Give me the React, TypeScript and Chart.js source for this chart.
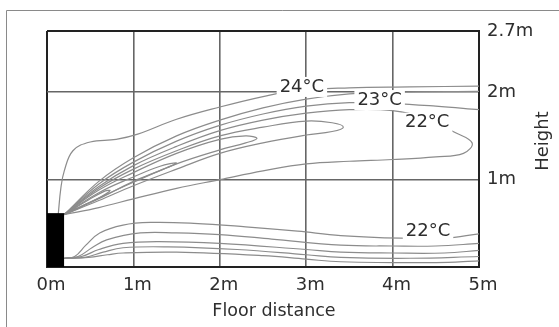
import React, { useEffect, useRef } from "react";
import { Chart, registerables } from "chart.js";

Chart.register(...registerables);

// Axis ticks (metres)
const xTickValues = [0, 1, 2, 3, 4, 5];
const yTickValues = [1, 2, 2.7];

// Outlet block (black)
const outletX = [0, 0.2];
const outletY = [0.61, 0.61];

// Upper fan contours
const c24X = [0.13, 0.16, 0.2, 0.3, 0.5, 0.8, 1.05, 1.5, 2.0, 2.5, 2.9, 3.5, 4.2, 5.0];
const c24Y = [0.6, 0.9, 1.1, 1.33, 1.43, 1.46, 1.52, 1.69, 1.83, 1.95, 2.02, 2.05, 2.06, 2.07];

const c2X = [0.2, 0.6, 1.0, 1.5, 2.0, 2.5, 3.0, 3.5, 4.0, 5.0];
const c2Y = [0.6, 0.98, 1.25, 1.5, 1.68, 1.82, 1.92, 1.98, 2.0, 2.01];

const c23X = [0.2, 0.6, 1.0, 1.5, 2.0, 2.5, 3.0, 3.5, 4.0, 4.5, 5.0];
const c23Y = [0.6, 0.95, 1.2, 1.44, 1.62, 1.75, 1.84, 1.88, 1.87, 1.84, 1.8];

const c22X = [0.2, 0.6, 1.0, 1.5, 2.0, 2.5, 3.0, 3.5, 4.0, 4.4, 4.7, 4.92, 4.82, 4.5, 4.0, 3.5, 3.0, 2.5, 2.0, 1.5, 1.0, 0.6, 0.2];
const c22Y = [0.6, 0.92, 1.16, 1.38, 1.56, 1.68, 1.76, 1.8, 1.79, 1.7, 1.55, 1.42, 1.3, 1.26, 1.23, 1.21, 1.18, 1.1, 1.0, 0.9, 0.78, 0.68, 0.6];

const loop4X = [0.2, 0.6, 1.0, 1.5, 2.0, 2.5, 3.0, 3.3, 3.43, 3.3, 3.0, 2.5, 2.0, 1.5, 1.0, 0.6, 0.2];
const loop4Y = [0.6, 0.9, 1.12, 1.33, 1.5, 1.6, 1.67, 1.65, 1.6, 1.55, 1.51, 1.42, 1.3, 1.12, 0.93, 0.76, 0.6];

const loop3X = [0.2, 0.6, 1.0, 1.5, 2.0, 2.3, 2.43, 2.3, 2.0, 1.5, 1.0, 0.6, 0.2];
const loop3Y = [0.6, 0.88, 1.08, 1.3, 1.46, 1.5, 1.47, 1.42, 1.34, 1.18, 0.97, 0.79, 0.6];

const loop2X = [0.2, 0.6, 1.0, 1.3, 1.5, 1.35, 1.0, 0.6, 0.2];
const loop2Y = [0.6, 0.85, 1.03, 1.15, 1.19, 1.12, 0.98, 0.78, 0.6];

const loop1X = [0.2, 0.45, 0.65, 0.73, 0.62, 0.45, 0.2];
const loop1Y = [0.6, 0.75, 0.86, 0.875, 0.8, 0.72, 0.6];

// Lower fan contours
const d1X = [0.2, 0.32, 0.45, 0.61, 0.88, 1.2, 1.7, 2.3, 2.9, 3.4, 4.1, 4.6, 5.0];
const d1Y = [0.1, 0.12, 0.25, 0.39, 0.48, 0.51, 0.5, 0.46, 0.41, 0.36, 0.33, 0.33, 0.38];

const d2X = [0.2, 0.36, 0.52, 0.69, 1.08, 1.5, 2.0, 2.6, 3.4, 4.0, 4.5, 5.0];
const d2Y = [0.1, 0.12, 0.22, 0.31, 0.39, 0.39, 0.37, 0.32, 0.25, 0.24, 0.24, 0.27];

const d3X = [0.2, 0.4, 0.6, 0.88, 1.3, 2.0, 3.0, 3.4, 4.0, 4.6, 5.0];
const d3Y = [0.1, 0.12, 0.2, 0.27, 0.29, 0.27, 0.2, 0.17, 0.16, 0.16, 0.19];

const d4X = [0.2, 0.44, 0.65, 0.88, 1.4, 2.2, 3.0, 3.4, 4.2, 5.0];
const d4Y = [0.1, 0.11, 0.17, 0.22, 0.23, 0.2, 0.14, 0.11, 0.1, 0.12];

const d5X = [0.2, 0.48, 0.7, 0.88, 1.5, 2.5, 3.0, 3.4, 4.5, 5.0];
const d5Y = [0.1, 0.11, 0.14, 0.16, 0.17, 0.13, 0.09, 0.06, 0.05, 0.07];

// Temperature labels
const tempLabels = ["24°C", "23°C", "22°C", "22°C"];
const tempLabelX = [2.95, 3.85, 4.4, 4.41];
const tempLabelY = [2.06, 1.91, 1.65, 0.41];

const xTitle = "Floor distance";
const yTitle = "Height";

const FONT = "'DejaVu Sans', sans-serif";
const TEXT = "#2e2e2e";

export default function App() {
  const ref = useRef<HTMLCanvasElement>(null);

  useEffect(() => {
    if (!ref.current) return;
    const pts = (xs: number[], ys: number[]) => xs.map((x, i) => ({ x, y: ys[i] }));
    const contour = (xs: number[], ys: number[]) => ({
      data: pts(xs, ys),
      showLine: true,
      pointRadius: 0,
      borderColor: "#8c8c8c",
      borderWidth: 1.2,
      tension: 0.4,
      fill: false,
    });

    const contours = [
      [c24X, c24Y], [c2X, c2Y], [c23X, c23Y], [c22X, c22Y],
      [loop4X, loop4Y], [loop3X, loop3Y], [loop2X, loop2Y], [loop1X, loop1Y],
      [d1X, d1Y], [d2X, d2Y], [d3X, d3Y], [d4X, d4Y], [d5X, d5Y],
    ].map(([xs, ys]) => contour(xs, ys));

    const framePlugin = {
      id: "frame",
      beforeDraw(chart: any) {
        const ctx = chart.ctx;
        ctx.save();
        ctx.fillStyle = "#ffffff";
        ctx.fillRect(0, 0, chart.width, chart.height);
        ctx.strokeStyle = "#8a8a8a";
        ctx.lineWidth = 1;
        ctx.beginPath();
        ctx.moveTo(6.5, chart.height);
        ctx.lineTo(6.5, 10.5);
        ctx.lineTo(chart.width, 10.5);
        ctx.stroke();
        ctx.restore();
      },
      afterDraw(chart: any) {
        const ctx = chart.ctx;
        ctx.save();
        ctx.fillStyle = TEXT;
        ctx.textAlign = "center";
        ctx.textBaseline = "middle";
        ctx.font = `17.5px ${FONT}`;
        ctx.fillText(xTitle, 274, 311);
        ctx.font = `18px ${FONT}`;
        ctx.translate(543, 141);
        ctx.rotate(-Math.PI / 2);
        ctx.fillText(yTitle, 0, 0);
        ctx.restore();
      },
    };

    const labelPlugin = {
      id: "tempLabels",
      afterDatasetsDraw(chart: any) {
        const ctx = chart.ctx;
        const xs = chart.scales.x;
        const ys = chart.scales.y;
        ctx.save();
        ctx.font = `18px ${FONT}`;
        ctx.textAlign = "center";
        ctx.textBaseline = "middle";
        tempLabels.forEach((t, i) => {
          const px = xs.getPixelForValue(tempLabelX[i]);
          const py = ys.getPixelForValue(tempLabelY[i]);
          const w = ctx.measureText(t).width;
          ctx.fillStyle = "#ffffff";
          ctx.fillRect(px - w / 2 - 3, py - 10, w + 6, 20);
          ctx.fillStyle = TEXT;
          ctx.fillText(t, px, py);
        });
        ctx.restore();
      },
    };

    const chart = new Chart(ref.current, {
      type: "scatter",
      data: {
        datasets: [
          {
            data: pts(outletX, outletY),
            showLine: true,
            pointRadius: 0,
            borderColor: "#000",
            borderWidth: 1,
            backgroundColor: "#000",
            fill: "origin",
            tension: 0,
          } as any,
          ...contours,
        ],
      },
      options: {
        responsive: false,
        animation: false,
        events: [],
        layout: { padding: { left: 47, top: 31, right: 0, bottom: 0 } },
        plugins: { legend: { display: false }, tooltip: { enabled: false } },
        scales: {
          x: {
            type: "linear",
            min: 0,
            max: 5,
            afterBuildTicks: (s: any) => {
              s.ticks = xTickValues.map((v) => ({ value: v }));
            },
            afterFit: (s: any) => {
              s.height = 60;
            },
            ticks: {
              callback: (v: any) => `${v}m`,
              color: TEXT,
              font: { family: FONT, size: 18 },
              padding: 8,
              labelOffset: 4,
              maxRotation: 0,
              autoSkip: false,
            },
            grid: {
              drawTicks: false,
              color: (c: any) => (c.tick && (c.tick.value === 0 || c.tick.value === 5) ? "#222" : "#666"),
              lineWidth: (c: any) => (c.tick && (c.tick.value === 0 || c.tick.value === 5) ? 2 : 1.6),
            },
            border: { display: true, color: "#222", width: 2 },
          },
          y: {
            type: "linear",
            position: "right",
            min: 0,
            max: 2.7,
            afterBuildTicks: (s: any) => {
              s.ticks = yTickValues.map((v) => ({ value: v }));
            },
            afterFit: (s: any) => {
              s.width = 80;
            },
            ticks: {
              callback: (v: any) => `${v}m`,
              color: TEXT,
              font: { family: FONT, size: 18 },
              padding: 8,
              autoSkip: false,
            },
            grid: {
              drawTicks: false,
              color: (c: any) => (c.tick && c.tick.value === 2.7 ? "#222" : "#666"),
              lineWidth: (c: any) => (c.tick && c.tick.value === 2.7 ? 2 : 1.6),
            },
            border: { display: true, color: "#222", width: 2 },
          },
        },
      },
      plugins: [framePlugin, labelPlugin],
    });
    return () => chart.destroy();
  }, []);

  return (
    <div style={{ position: "absolute", left: 0, top: 0, width: 559, height: 327 }}>
      <canvas ref={ref} width={559} height={327} />
    </div>
  );
}
